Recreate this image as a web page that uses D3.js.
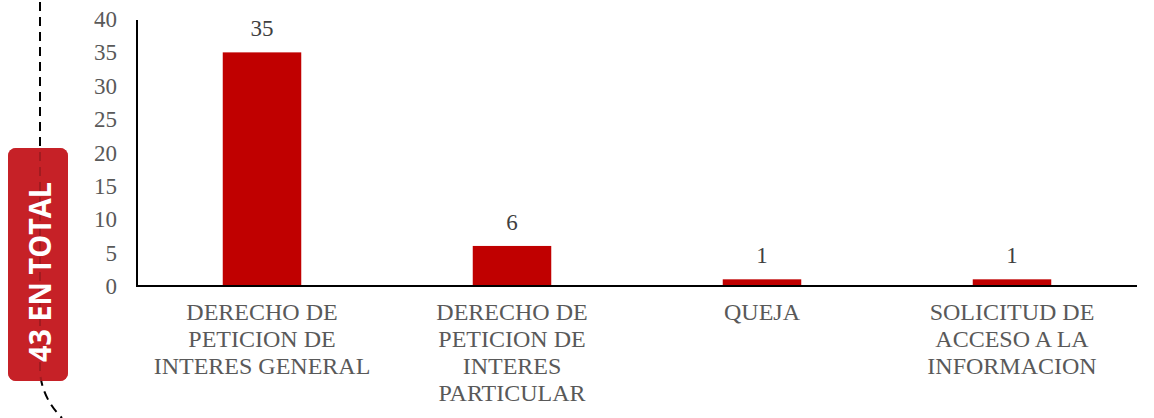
<!DOCTYPE html>
<html lang="en">
<head>
    <meta charset="UTF-8">
    <title>Tipos de solicitud</title>
    <style>
        body { margin: 0; background: #fff; }
        svg text { font-family: "Liberation Serif", "DejaVu Serif", serif; }
    </style>
</head>
<body>
    <div id="chart"></div>
    <script src="https://d3js.org/d3.v7.min.js"></script>
    <script>
        const categories = [
            ["DERECHO DE", "PETICION DE", "INTERES GENERAL"],
            ["DERECHO DE", "PETICION DE", "INTERES", "PARTICULAR"],
            ["QUEJA"],
            ["SOLICITUD DE", "ACCESO A LA", "INFORMACION"]
        ];
        const values = [35, 6, 1, 1];
        const yTicks = [0, 5, 10, 15, 20, 25, 30, 35, 40];
        const totalLabel = "43 EN TOTAL";

        const width = 1154, height = 418;
        const margin = { top: 19, right: 17, bottom: 132, left: 137 };

        const svg = d3.select("#chart").append("svg")
            .attr("width", width)
            .attr("height", height);

        const x = d3.scaleBand()
            .domain(d3.range(values.length))
            .range([margin.left, width - margin.right])
            .paddingInner(0.686)
            .paddingOuter(0.343);

        const y = d3.scaleLinear()
            .domain([0, 40])
            .range([height - margin.bottom, margin.top]);

        // y tick labels (no tick marks)
        svg.append("g")
            .selectAll("text")
            .data(yTicks)
            .join("text")
            .attr("x", margin.left - 20)
            .attr("y", d => y(d))
            .attr("dy", "0.35em")
            .attr("text-anchor", "end")
            .attr("fill", "#595959")
            .style("font-size", "23px")
            .text(d => d);

        // bars
        svg.append("g")
            .selectAll("rect")
            .data(values)
            .join("rect")
            .attr("x", (d, i) => x(i))
            .attr("y", d => y(d))
            .attr("width", x.bandwidth())
            .attr("height", d => y(0) - y(d))
            .attr("fill", "#c00000");

        // value labels
        svg.append("g")
            .selectAll("text")
            .data(values)
            .join("text")
            .attr("x", (d, i) => x(i) + x.bandwidth() / 2)
            .attr("y", d => y(d) - 16)
            .attr("text-anchor", "middle")
            .attr("fill", "#404040")
            .style("font-size", "23px")
            .text(d => d);

        // axes lines
        svg.append("line")
            .attr("x1", margin.left).attr("x2", margin.left)
            .attr("y1", y(40) + 1).attr("y2", y(0) + 1)
            .attr("stroke", "#000").attr("stroke-width", 2);
        svg.append("line")
            .attr("x1", margin.left - 1).attr("x2", width - margin.right)
            .attr("y1", y(0)).attr("y2", y(0))
            .attr("stroke", "#000").attr("stroke-width", 2);

        // category labels
        const catG = svg.append("g")
            .selectAll("text")
            .data(categories)
            .join("text")
            .attr("x", (d, i) => x(i) + x.bandwidth() / 2)
            .attr("y", y(0) + 34)
            .attr("text-anchor", "middle")
            .attr("fill", "#595959")
            .style("font-size", "24px");
        catG.selectAll("tspan")
            .data(d => d)
            .join("tspan")
            .attr("x", function() { return d3.select(this.parentNode).attr("x"); })
            .attr("dy", (d, i) => i === 0 ? 0 : 27)
            .text(d => d);

        // red total box with dashed guide line
        svg.append("rect")
            .attr("x", 8).attr("y", 148)
            .attr("width", 60).attr("height", 233)
            .attr("rx", 8)
            .attr("fill", "#c62127");

        svg.append("path")
            .attr("d", "M40,2 L40,372 Q42,398 62,418")
            .attr("fill", "none")
            .attr("stroke", "#000")
            .attr("stroke-width", 2)
            .attr("stroke-dasharray", "9,6");

        svg.append("rect")
            .attr("x", 8).attr("y", 148)
            .attr("width", 60).attr("height", 233)
            .attr("rx", 8)
            .attr("fill", "#c62127")
            .attr("opacity", 0.82);

        svg.append("text")
            .attr("transform", "translate(51,272) rotate(-90)")
            .attr("text-anchor", "middle")
            .attr("fill", "#fff")
            .style("font-family", "'Open Sans', 'DejaVu Sans', sans-serif")
            .style("font-weight", "bold")
            .style("font-size", "30px")
            .attr("textLength", 180)
            .attr("lengthAdjust", "spacingAndGlyphs")
            .text(totalLabel);
    </script>
</body>
</html>
